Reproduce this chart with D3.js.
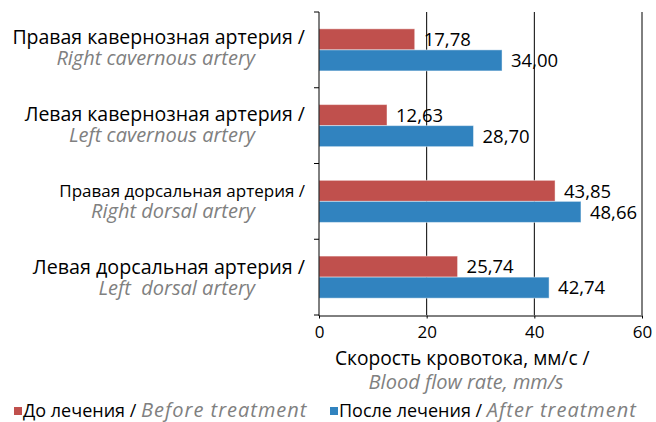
<!DOCTYPE html>
<html>
<head>
<meta charset="utf-8">
<script src="https://cdn.jsdelivr.net/npm/d3@7"></script>
<style>
  body { margin: 0; background: #fff; }
  text { font-family: "Open Sans", "Noto Sans", sans-serif; }
</style>
</head>
<body>
<div class="chart"></div>
<script>
// categories, top to bottom
var catRu = ["Правая кавернозная артерия /", "Левая кавернозная артерия /", "Правая дорсальная артерия /", "Левая дорсальная артерия /"];
var catEn = ["Right cavernous artery", "Left cavernous artery", "Right dorsal artery", "Left  dorsal artery"];
var catSize = [19.5, 19.5, 17, 19.7];

var series = ["before", "after"];
var before = [17.78, 12.63, 43.85, 25.74];
var after = [34.00, 28.70, 48.66, 42.74];
var xTicks = [0, 20, 40, 60];

var colors = { before: "#c0504d", after: "#3183bf" };
var gray = "#808080";

var svgWidth = 656;
var svgHeight = 422;

var svg = d3.select(".chart")
  .append("svg")
  .attr("width", svgWidth)
  .attr("height", svgHeight);

var x = d3.scaleLinear().domain([0, 60]).range([319, 642]);
var y0 = d3.scaleBand().domain(d3.range(catRu.length)).range([12, 315]);
var y1 = d3.scaleBand().domain(series).range([0, y0.bandwidth()]).paddingInner(0).paddingOuter(0.8);

var fmt = function(v) { return d3.format(".2f")(v).replace(".", ","); };

// gridlines
svg.append("g")
  .selectAll("line")
  .data(xTicks.slice(1))
  .enter().append("line")
  .attr("x1", function(d) { return x(d); })
  .attr("x2", function(d) { return x(d); })
  .attr("y1", 12)
  .attr("y2", 315)
  .attr("stroke", "#000")
  .attr("stroke-width", 1);

// bars
var rows = catRu.map(function(c, i) {
  return { i: i, vals: [{ k: "before", v: before[i] }, { k: "after", v: after[i] }] };
});

var grp = svg.append("g").selectAll("g")
  .data(rows)
  .enter().append("g")
  .attr("transform", function(d) { return "translate(0," + y0(d.i) + ")"; });

grp.selectAll("rect")
  .data(function(d) { return d.vals; })
  .enter().append("rect")
  .attr("x", x(0))
  .attr("y", function(d) { return y1(d.k); })
  .attr("width", function(d) { return x(d.v) - x(0); })
  .attr("height", y1.bandwidth())
  .attr("fill", function(d) { return colors[d.k]; })
  .attr("stroke", "rgba(255,255,255,0.45)")
  .attr("stroke-width", 1);

grp.selectAll("text.val")
  .data(function(d) { return d.vals; })
  .enter().append("text")
  .attr("class", "val")
  .attr("x", function(d) { return x(d.v) + 9; })
  .attr("y", function(d) { return y1(d.k) + y1.bandwidth() / 2; })
  .attr("dy", "0.36em")
  .attr("font-size", 18.5)
  .attr("fill", "#000")
  .text(function(d) { return fmt(d.v); });

// y axis
var yAxis = svg.append("g");
yAxis.append("line")
  .attr("x1", x(0)).attr("x2", x(0))
  .attr("y1", 12).attr("y2", 316)
  .attr("stroke", "#000");
yAxis.selectAll("line.tk")
  .data(d3.range(catRu.length + 1))
  .enter().append("line")
  .attr("class", "tk")
  .attr("x1", x(0) - 5).attr("x2", x(0))
  .attr("y1", function(d) { return 12 + d * y0.step(); })
  .attr("y2", function(d) { return 12 + d * y0.step(); })
  .attr("stroke", "#000");

// x axis
var xAxis = svg.append("g")
  .attr("transform", "translate(0,315.5)")
  .call(d3.axisBottom(x).tickValues(xTicks).tickSize(3).tickSizeOuter(0).tickFormat(d3.format("d")));
xAxis.select(".domain").attr("stroke", "#000");
xAxis.selectAll(".tick line").attr("stroke", "#000");
xAxis.selectAll("text")
  .attr("font-size", 17)
  .attr("font-family", "Open Sans")
  .attr("fill", "#000")
  .attr("dy", "0.95em");

// category labels
var labels = svg.append("g").selectAll("g")
  .data(d3.range(catRu.length))
  .enter().append("g");
labels.append("text")
  .attr("x", 305)
  .attr("y", function(i) { return y0(i) + y0.bandwidth() / 2 - 6 + i; })
  .attr("text-anchor", "end")
  .attr("font-size", function(i) { return catSize[i]; })
  .attr("fill", "#000")
  .text(function(i) { return catRu[i]; });
labels.append("text")
  .attr("x", 255)
  .attr("y", function(i) { return y0(i) + y0.bandwidth() / 2 + 15 + i; })
  .attr("text-anchor", "end")
  .attr("font-size", 20)
  .attr("font-style", "italic")
  .attr("fill", gray)
  .style("white-space", "pre")
  .text(function(i) { return catEn[i]; });

// axis title
svg.append("text")
  .attr("x", 335).attr("y", 365)
  .attr("font-size", 19.2)
  .attr("fill", "#000")
  .text("Скорость кровотока, мм/с /");
svg.append("text")
  .attr("x", 466).attr("y", 389)
  .attr("text-anchor", "middle")
  .attr("font-size", 20)
  .attr("font-style", "italic")
  .attr("fill", gray)
  .text("Blood flow rate, mm/s");

// legend
var legend = [
  { k: "before", ru: "До лечения / ", en: "Before treatment", x: 14 },
  { k: "after", ru: "После лечения / ", en: "After treatment", x: 330 }
];
var lg = svg.append("g").selectAll("g")
  .data(legend)
  .enter().append("g")
  .attr("transform", function(d) { return "translate(" + d.x + ",0)"; });
lg.append("rect")
  .attr("x", 0).attr("y", 407)
  .attr("width", 8).attr("height", 8)
  .attr("fill", function(d) { return colors[d.k]; });
var lt = lg.append("text")
  .attr("x", 9).attr("y", 417)
  .attr("font-size", 18)
  .style("white-space", "pre");
lt.append("tspan").attr("fill", "#000").text(function(d) { return d.ru; });
lt.append("tspan").attr("fill", gray).attr("font-style", "italic")
  .attr("font-size", 20).attr("letter-spacing", 1)
  .text(function(d) { return d.en; });
</script>
</body>
</html>
